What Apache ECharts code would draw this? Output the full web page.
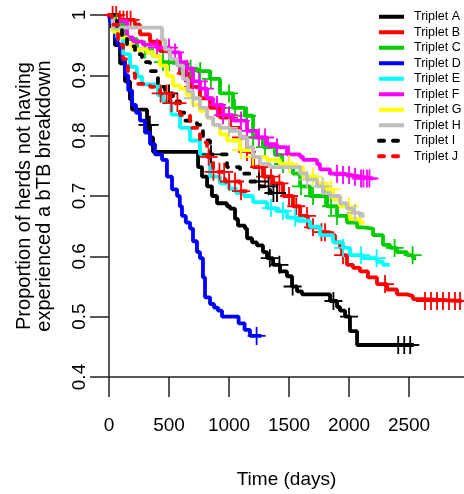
<!DOCTYPE html>
<html>
<head>
<meta charset="utf-8">
<script src="https://cdn.jsdelivr.net/npm/echarts@6/dist/echarts.min.js"></script>
<style>
html,body{margin:0;padding:0;background:#fff;}
#chart{width:464px;height:494px;}
</style>
</head>
<body>
<div id="chart"></div>
<script>
// ---- Data (time in days, proportion surviving) ----
const seriesNames = ['Triplet A','Triplet B','Triplet C','Triplet D','Triplet E','Triplet F','Triplet G','Triplet H','Triplet I','Triplet J'];
const xTicks = [0, 500, 1000, 1500, 2000, 2500];
const yTicks = [0.4, 0.5, 0.6, 0.7, 0.8, 0.9, 1];

const tA = [0, 20, 50, 92, 133, 175, 192, 317, 342, 367, 742, 775, 817, 858, 900, 983, 1008, 1050, 1075, 1133, 1150, 1192, 1233, 1283, 1317, 1367, 1425, 1483, 1525, 1567, 1608, 1842, 1900, 1925, 1967, 2008, 2067, 2540];
const sA = [1, 0.98, 0.95, 0.92, 0.89, 0.86, 0.843, 0.818, 0.797, 0.773, 0.748, 0.732, 0.716, 0.70, 0.688, 0.683, 0.679, 0.662, 0.651, 0.646, 0.63, 0.623, 0.618, 0.607, 0.597, 0.586, 0.575, 0.567, 0.55, 0.542, 0.537, 0.526, 0.516, 0.51, 0.50, 0.476, 0.453, 0.453];
const cA = [320, 340, 1340, 1420, 1530, 1870, 2000, 2410, 2460, 2510];

const tB = [0, 90, 215, 258, 342, 425, 508, 592, 675, 758, 842, 925, 1008, 1092, 1150, 1200, 1283, 1367, 1450, 1533, 1592, 1658, 1758, 1842, 1883, 1925, 1942, 1983, 2033, 2092, 2158, 2233, 2317, 2400, 2483, 2533, 2617, 2940];
const sB = [1, 0.992, 0.984, 0.968, 0.956, 0.94, 0.924, 0.903, 0.881, 0.862, 0.846, 0.83, 0.813, 0.797, 0.773, 0.748, 0.732, 0.721, 0.70, 0.683, 0.667, 0.648, 0.64, 0.635, 0.623, 0.614, 0.602, 0.586, 0.581, 0.575, 0.565, 0.554, 0.545, 0.537, 0.534, 0.529, 0.526, 0.526];
const cB = [30, 60, 90, 120, 150, 180, 640, 700, 760, 900, 1000, 1100, 1150, 1250, 1300, 1350, 1420, 1500, 1560, 1650, 1700, 1770, 1800, 1950, 2300, 2633, 2683, 2733, 2783, 2833, 2883, 2925];

const tC = [0, 50, 133, 233, 317, 367, 425, 550, 650, 733, 842, 925, 1033, 1133, 1200, 1283, 1383, 1442, 1533, 1592, 1675, 1817, 1900, 1983, 2067, 2117, 2200, 2283, 2342, 2400, 2483, 2533, 2560];
const sC = [1, 0.984, 0.96, 0.943, 0.938, 0.932, 0.922, 0.919, 0.911, 0.907, 0.894, 0.87, 0.846, 0.833, 0.797, 0.781, 0.768, 0.753, 0.737, 0.716, 0.70, 0.683, 0.667, 0.656, 0.648, 0.646, 0.635, 0.619, 0.614, 0.607, 0.602, 0.597, 0.597];
const cC = [300, 450, 500, 600, 680, 760, 850, 1000, 1050, 1150, 1200, 1300, 1450, 1600, 1700, 1800, 1850, 1900, 2380, 2530];

const tD = [0, 15, 33, 50, 70, 92, 110, 133, 160, 192, 225, 258, 300, 342, 383, 442, 483, 525, 567, 590, 608, 640, 675, 700, 733, 758, 783, 800, 842, 875, 908, 942, 1080, 1130, 1175, 1270];
const sD = [1, 0.985, 0.976, 0.96, 0.952, 0.943, 0.925, 0.90, 0.875, 0.851, 0.838, 0.825, 0.805, 0.786, 0.769, 0.76, 0.732, 0.711, 0.70, 0.683, 0.667, 0.656, 0.646, 0.625, 0.607, 0.597, 0.565, 0.532, 0.521, 0.515, 0.51, 0.50, 0.489, 0.478, 0.468, 0.468];
const cD = [1230];

const tE = [0, 30, 67, 117, 175, 233, 275, 408, 450, 520, 592, 675, 758, 842, 925, 1000, 1060, 1125, 1200, 1317, 1400, 1483, 1567, 1675, 1758, 1867, 1950, 2008, 2117, 2233, 2283, 2340];
const sE = [1, 0.985, 0.963, 0.935, 0.914, 0.898, 0.885, 0.867, 0.857, 0.835, 0.813, 0.792, 0.769, 0.732, 0.721, 0.712, 0.705, 0.70, 0.69, 0.68, 0.675, 0.664, 0.659, 0.649, 0.635, 0.623, 0.614, 0.602, 0.597, 0.591, 0.586, 0.586];
const cE = [1350, 1450, 1550, 1950, 2100, 2230];

const tF = [0, 33, 150, 200, 283, 400, 508, 592, 650, 700, 758, 817, 867, 950, 1033, 1150, 1233, 1317, 1400, 1483, 1592, 1617, 1733, 1758, 1842, 1950, 2008, 2092, 2200];
const sF = [1, 0.99, 0.963, 0.956, 0.951, 0.946, 0.938, 0.922, 0.911, 0.89, 0.878, 0.862, 0.851, 0.834, 0.825, 0.808, 0.797, 0.786, 0.781, 0.769, 0.765, 0.76, 0.753, 0.744, 0.737, 0.735, 0.732, 0.729, 0.729];
const cF = [400, 500, 550, 650, 700, 750, 800, 900, 950, 1000, 1100, 1150, 1250, 1300, 1400, 1500, 1900, 1950, 2000, 2050, 2100, 2120, 2150, 2170];

const tG = [0, 33, 92, 150, 200, 317, 367, 425, 483, 533, 592, 650, 700, 758, 817, 867, 925, 983, 1092, 1200, 1317, 1425, 1533, 1617, 1733, 1817, 1867, 1925, 2008, 2092, 2130];
const sG = [1, 0.972, 0.963, 0.951, 0.943, 0.938, 0.932, 0.916, 0.899, 0.883, 0.878, 0.867, 0.851, 0.841, 0.83, 0.818, 0.802, 0.792, 0.776, 0.765, 0.76, 0.753, 0.748, 0.732, 0.721, 0.711, 0.695, 0.683, 0.662, 0.656, 0.656];
const cG = [1100, 1200, 1500, 1700, 1850, 2000];

const tH = [0, 33, 442, 467, 508, 567, 617, 658, 700, 758, 817, 867, 925, 1008, 1092, 1150, 1200, 1258, 1342, 1592, 1650, 1733, 1783, 1842, 1925, 1983, 2033, 2092, 2130];
const sH = [1, 0.979, 0.959, 0.943, 0.927, 0.916, 0.894, 0.873, 0.862, 0.846, 0.83, 0.818, 0.813, 0.808, 0.797, 0.781, 0.765, 0.753, 0.748, 0.737, 0.727, 0.716, 0.705, 0.70, 0.688, 0.679, 0.672, 0.667, 0.667];
const cH = [700, 1000, 1650, 1780, 2050];

const tI = [0, 67, 108, 150, 217, 275, 342, 408, 467, 533, 592, 633, 733, 783, 842, 983, 1092, 1175, 1258, 1342, 1430];
const sI = [1, 0.979, 0.963, 0.948, 0.935, 0.922, 0.907, 0.881, 0.87, 0.857, 0.838, 0.825, 0.818, 0.792, 0.769, 0.748, 0.737, 0.724, 0.716, 0.705, 0.705];
const cI = [500, 850, 1250, 1330, 1370, 1400];

const tJ = [0, 25, 75, 117, 158, 217, 342, 425, 508, 592, 675, 758, 817, 867, 967, 1092, 1150];
const sJ = [1, 0.984, 0.951, 0.927, 0.903, 0.886, 0.881, 0.87, 0.854, 0.834, 0.813, 0.789, 0.765, 0.74, 0.724, 0.708, 0.708];
const cJ = [430, 480, 520, 570, 830, 870, 920, 960, 1000, 1050, 1100];

// ---- Styling ----
const colors = ['#000000','#ff0000','#00cd00','#0000ff','#00ffff','#ff00ff','#ffff00','#bebebe','#000000','#ff0000'];
const dashed = [false,false,false,false,false,false,false,false,true,true];
const allT = [tA,tB,tC,tD,tE,tF,tG,tH,tI,tJ];
const allS = [sA,sB,sC,sD,sE,sF,sG,sH,sI,sJ];
const allC = [cA,cB,cC,cD,cE,cF,cG,cH,cI,cJ];

function survAt(ts, ss, t){
  let v = ss[0];
  for (let i = 0; i < ts.length; i++) { if (ts[i] <= t) v = ss[i]; else break; }
  return v;
}

const crossPath = 'path://M0,9H20V11H0Z M9,0H11V20H9Z';
const FONT = 'Liberation Sans, Arial, sans-serif';

const series = [];
seriesNames.forEach((name, k) => {
  series.push({
    name: name,
    type: 'line',
    step: 'end',
    showSymbol: false,
    symbol: 'none',
    silent: true,
    data: allT[k].map((t, i) => [t, allS[k][i]]),
    lineStyle: {
      color: colors[k],
      width: 3.8,
      type: dashed[k] ? [5, 9] : 'solid',
      cap: dashed[k] ? 'round' : 'butt'
    },
    itemStyle: { color: colors[k] },
    z: 2 + k
  });
});
seriesNames.forEach((name, k) => {
  series.push({
    name: name + ' censored',
    type: 'scatter',
    symbol: crossPath,
    symbolSize: 18,
    clip: false,
    silent: true,
    data: allC[k].map(t => [t, survAt(allT[k], allS[k], t)]),
    itemStyle: { color: colors[k], opacity: 1 },
    z: 2 + k
  });
});

const chart = echarts.init(document.getElementById('chart'), null, { renderer: 'canvas' });
chart.setOption({
  animation: false,
  backgroundColor: '#ffffff',
  textStyle: { fontFamily: FONT },
  grid: { left: 109, right: 0, top: 15, bottom: 109.5, containLabel: false },
  legend: {
    data: seriesNames.map(n => ({ name: n })),
    orient: 'vertical',
    left: 377,
    top: 9,
    padding: 0,
    itemWidth: 25,
    itemHeight: 10,
    itemGap: 0,
    selectedMode: false,
    itemStyle: { opacity: 0 },
    lineStyle: { width: 4 },
    textStyle: { fontSize: 12.5, lineHeight: 15.5, color: '#000', fontFamily: FONT, padding: [0, 0, 0, 5] }
  },
  xAxis: {
    type: 'value',
    min: 0,
    max: 2958,
    interval: 500,
    name: 'Time (days)',
    nameLocation: 'middle',
    nameGap: 93,
    nameTextStyle: { fontSize: 19, color: '#000', fontFamily: FONT },
    axisLine: { show: true, lineStyle: { color: '#222', width: 1.5 } },
    axisTick: { show: true, length: 20, lineStyle: { color: '#222', width: 1.5 } },
    axisLabel: {
      fontSize: 19, color: '#000', margin: 39, fontFamily: FONT,
      showMaxLabel: false,
      formatter: v => (xTicks.indexOf(v) >= 0 ? String(v) : '')
    },
    splitLine: { show: false }
  },
  yAxis: {
    type: 'value',
    min: 0.4,
    max: 1,
    interval: 0.1,
    name: 'Proportion of herds not having\nexperienced a bTB breakdown',
    nameLocation: 'middle',
    nameGap: 55,
    nameRotate: 90,
    nameTextStyle: { fontSize: 20, color: '#000', fontFamily: FONT, lineHeight: 20 },
    axisLine: { show: true, lineStyle: { color: '#222', width: 1.5 } },
    axisTick: { show: true, length: 19, lineStyle: { color: '#222', width: 1.5 } },
    axisLabel: {
      fontSize: 19, color: '#000', margin: 20, rotate: 90, fontFamily: FONT,
      formatter: v => {
        const r = Math.round(v * 10) / 10;
        return yTicks.indexOf(r) >= 0 ? String(r) : '';
      }
    },
    splitLine: { show: false }
  },
  series: series
});
</script>
</body>
</html>
